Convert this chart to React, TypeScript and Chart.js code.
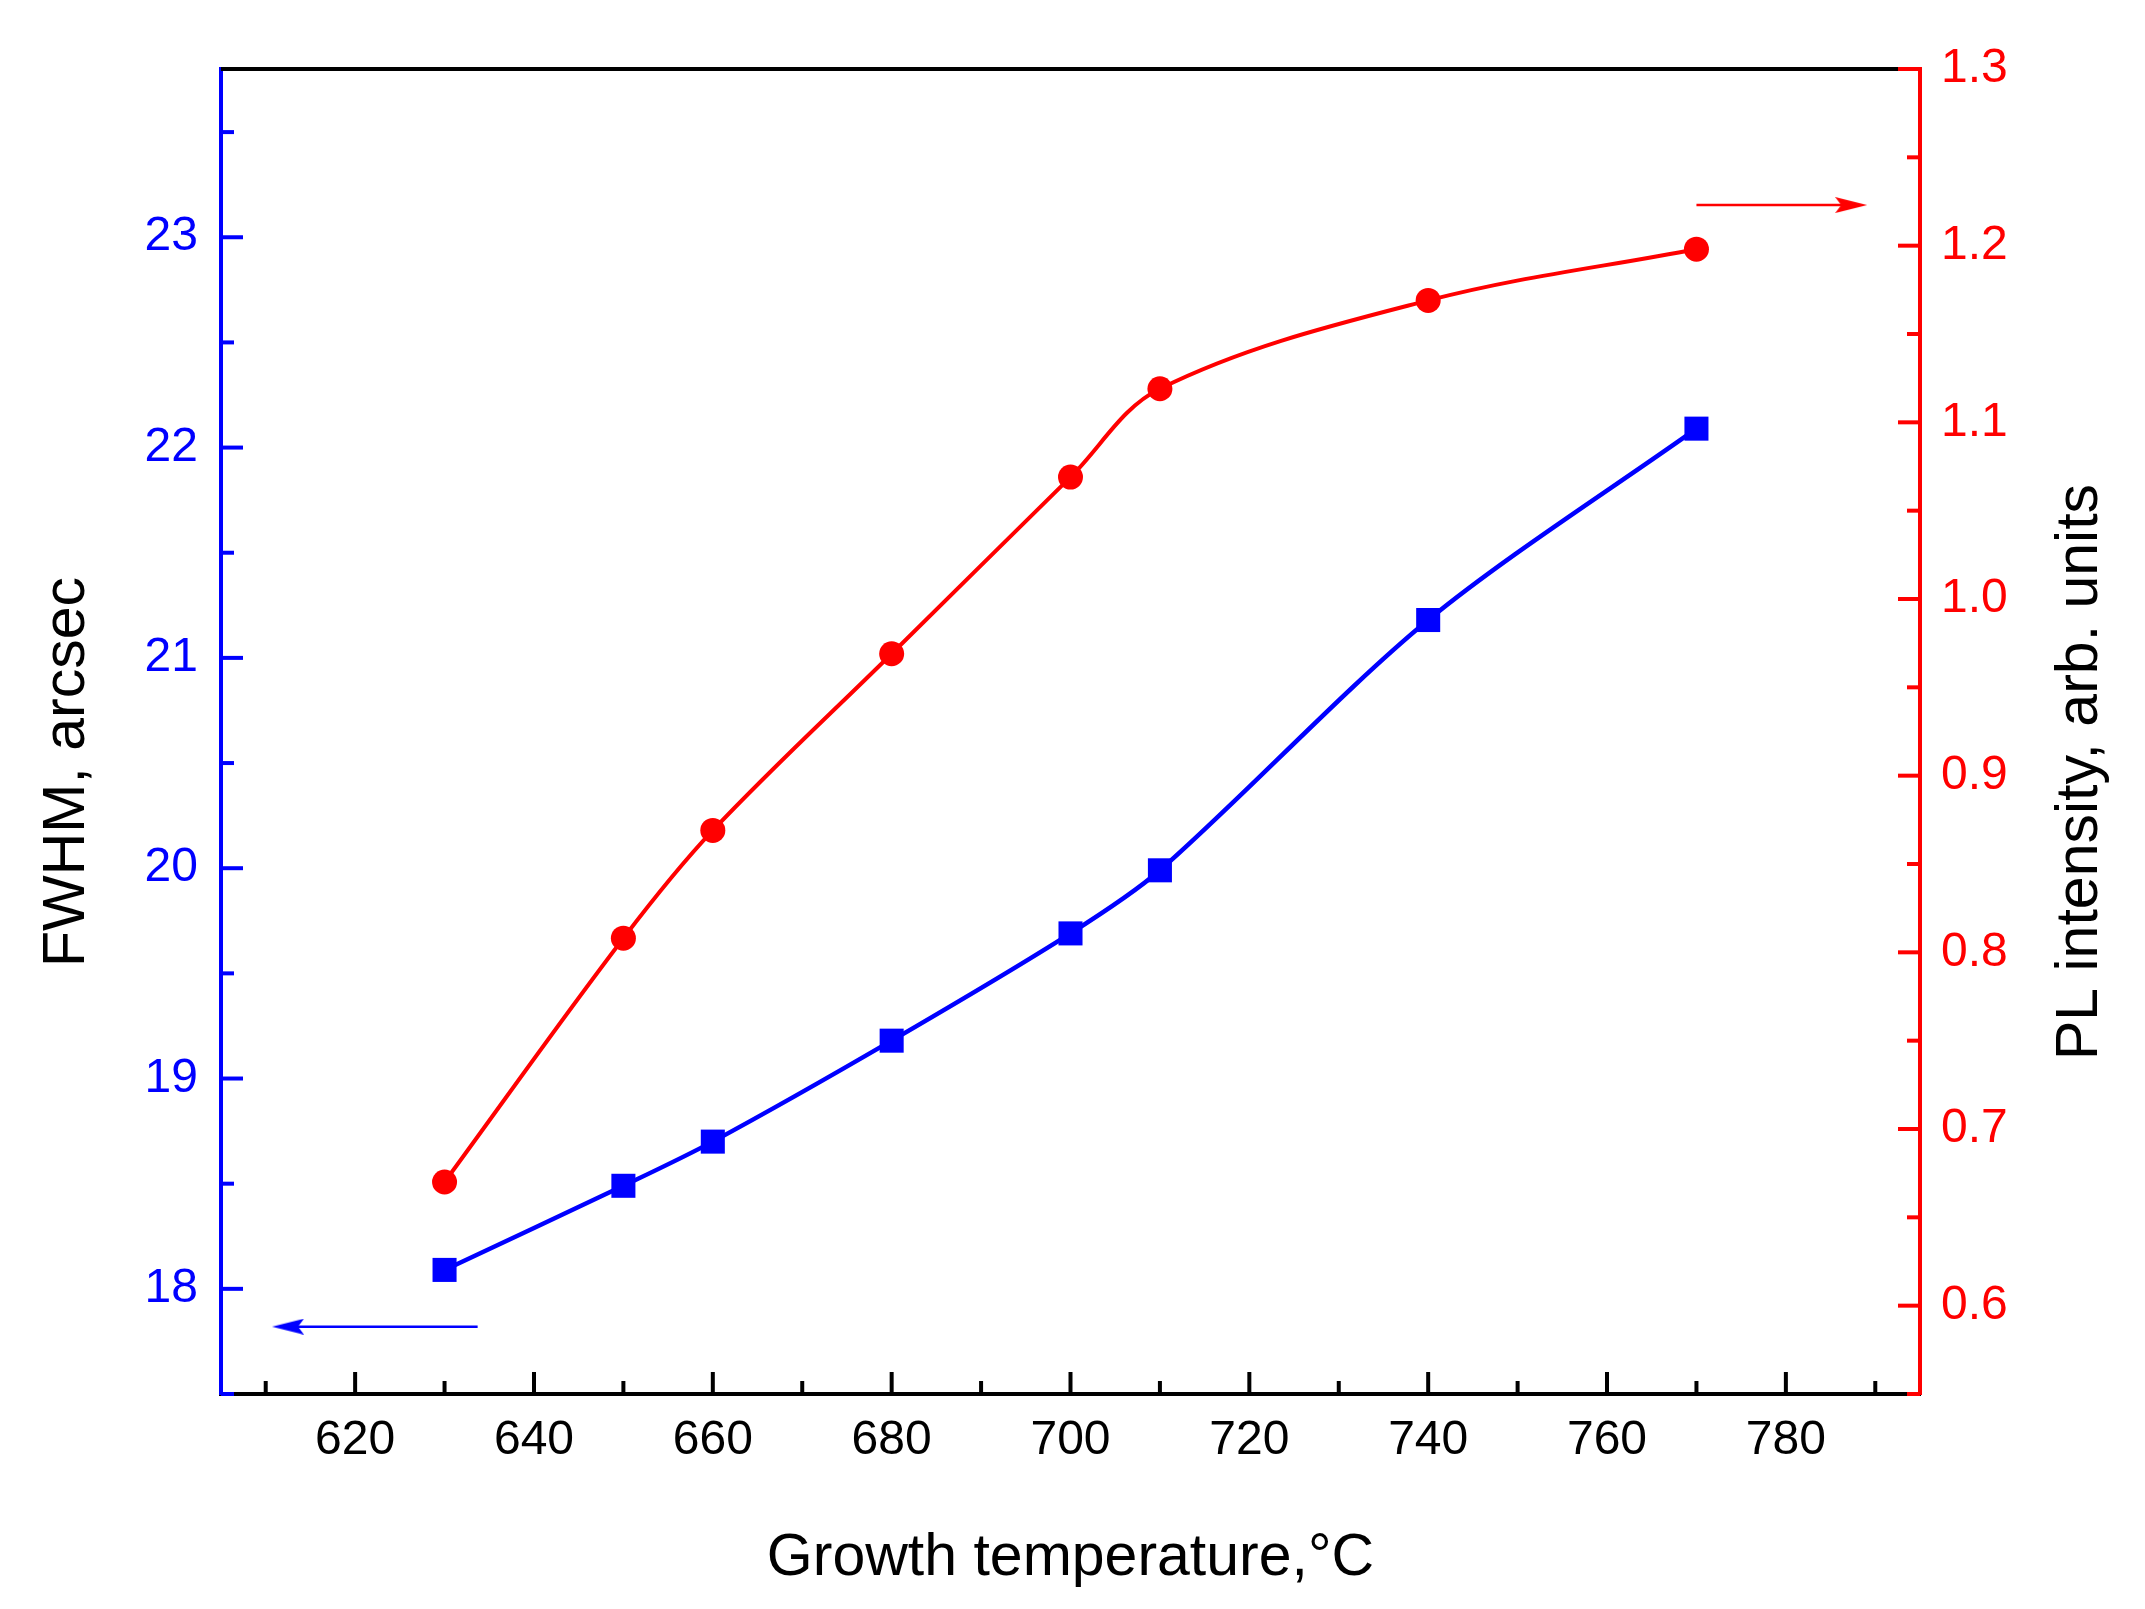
import { useEffect, useRef } from "react";
import { Chart, registerables, Plugin } from "chart.js";

Chart.register(...registerables);

// growth temperature, °C
const temperatures = [630, 650, 660, 680, 700, 710, 740, 770];
// left axis: FWHM, arcsec
const fwhmValues = [18.09, 18.49, 18.7, 19.18, 19.69, 19.99, 21.18, 22.09];
// right axis: PL intensity, arb. units
const plIntensity = [0.67, 0.808, 0.869, 0.969, 1.069, 1.119, 1.169, 1.198];

const xTicks = [620, 640, 660, 680, 700, 720, 740, 760, 780];
const fwhmTicks = [18, 19, 20, 21, 22, 23];
const plTicks = [0.6, 0.7, 0.8, 0.9, 1.0, 1.1, 1.2, 1.3];

// arrows that point at the axis each curve belongs to
const fwhmArrowX = [633.7, 612.5];
const fwhmArrowY = 17.82;
const plArrowX = [770, 787.3];
const plArrowY = 1.223;

const xTitle = "Growth temperature,°C";
const fwhmTitle = "FWHM, arcsec";
const plTitle = "PL intensity, arb. units";

const BLUE = "#0000ff";
const RED = "#ff0000";
const FONT = "'Liberation Sans', Arial, sans-serif";

// minor ticks halfway between majors, kept inside the axis range
function minorValues(majors: number[], min: number, max: number) {
  const step = majors[1] - majors[0];
  const out: number[] = [];
  const candidates = [majors[0] - step / 2, ...majors.map((m) => m + step / 2)];
  for (const v of candidates) {
    if (v >= min - 1e-9 && v <= max + 1e-9) out.push(v);
  }
  return out;
}

// narrow arrow head, pointing right; rotated per point
function arrowHead(color: string) {
  const c = document.createElement("canvas");
  c.width = 32;
  c.height = 16;
  const g = c.getContext("2d")!;
  g.fillStyle = color;
  g.beginPath();
  g.moveTo(32, 8);
  g.lineTo(0, 0);
  g.lineTo(6, 8);
  g.lineTo(0, 16);
  g.closePath();
  g.fill();
  return c;
}

const framePlugin: Plugin = {
  id: "frame",
  afterDraw(chart) {
    const { ctx, chartArea: a, scales } = chart;
    ctx.save();
    ctx.lineCap = "butt";

    // top border
    ctx.strokeStyle = "#000";
    ctx.lineWidth = 4;
    ctx.beginPath();
    ctx.moveTo(a.left, a.top);
    ctx.lineTo(a.right, a.top);
    ctx.stroke();

    const MAJOR = 22;
    const MINOR = 13;
    const tickSet = (
      id: string,
      majors: number[],
      color: string,
      edge: number,
      dir: number,
      vertical: boolean
    ) => {
      const s = scales[id];
      ctx.strokeStyle = color;
      ctx.lineWidth = 4;
      const draw = (v: number, len: number) => {
        const p = s.getPixelForValue(v);
        ctx.beginPath();
        if (vertical) {
          ctx.moveTo(edge, p);
          ctx.lineTo(edge + dir * len, p);
        } else {
          ctx.moveTo(p, edge);
          ctx.lineTo(p, edge + dir * len);
        }
        ctx.stroke();
      };
      majors.forEach((v) => draw(v, MAJOR));
      minorValues(majors, s.min, s.max).forEach((v) => draw(v, MINOR));
    };
    tickSet("x", xTicks, "#000", a.bottom, -1, false);
    tickSet("y", fwhmTicks, BLUE, a.left, 1, true);
    tickSet("y1", plTicks, RED, a.right, -1, true);

    // axis titles
    ctx.fillStyle = "#000";
    ctx.font = `59px ${FONT}`;
    ctx.textAlign = "center";
    ctx.textBaseline = "alphabetic";
    ctx.fillText(xTitle, (a.left + a.right) / 2, 1575);

    const midY = 772;
    ctx.save();
    ctx.translate(84, midY);
    ctx.rotate(-Math.PI / 2);
    ctx.fillText(fwhmTitle, 0, 0);
    ctx.restore();

    ctx.save();
    ctx.translate(2097, midY);
    ctx.rotate(-Math.PI / 2);
    ctx.fillText(plTitle, 0, 0);
    ctx.restore();

    ctx.restore();
  },
};

export default function App() {
  const canvasRef = useRef<HTMLCanvasElement>(null);
  const chartRef = useRef<Chart | null>(null);

  useEffect(() => {
    if (!canvasRef.current) return;
    if (chartRef.current) chartRef.current.destroy();

    const fwhmPoints = temperatures.map((t, i) => ({ x: t, y: fwhmValues[i] }));
    const plPoints = temperatures.map((t, i) => ({ x: t, y: plIntensity[i] }));
    const blueHead = arrowHead(BLUE);
    const redHead = arrowHead(RED);

    chartRef.current = new Chart(canvasRef.current, {
      type: "line",
      data: {
        datasets: [
          {
            data: plPoints,
            yAxisID: "y1",
            borderColor: RED,
            backgroundColor: RED,
            borderWidth: 4,
            tension: 0.35,
            pointStyle: "circle",
            pointRadius: 12.5,
            pointBorderWidth: 0,
          },
          {
            data: fwhmPoints,
            yAxisID: "y",
            borderColor: BLUE,
            backgroundColor: BLUE,
            borderWidth: 4.5,
            tension: 0.3,
            pointStyle: "rect",
            pointRadius: 17,
            pointBorderWidth: 0,
          },
          {
            data: fwhmArrowX.map((x) => ({ x, y: fwhmArrowY })),
            yAxisID: "y",
            borderColor: BLUE,
            backgroundColor: BLUE,
            borderWidth: 2.5,
            pointStyle: [false, blueHead] as any,
            pointRadius: [0, 10],
            pointRotation: [0, 180],
            pointBorderWidth: 0,
          },
          {
            data: plArrowX.map((x) => ({ x, y: plArrowY })),
            yAxisID: "y1",
            borderColor: RED,
            backgroundColor: RED,
            borderWidth: 2.5,
            pointStyle: [false, redHead] as any,
            pointRadius: [0, 10],
            pointRotation: [0, 0],
            pointBorderWidth: 0,
          },
        ],
      },
      options: {
        responsive: true,
        maintainAspectRatio: false,
        animation: false,
        layout: { padding: { top: 69, left: 0, right: 0, bottom: 0 } },
        plugins: {
          legend: { display: false },
          tooltip: { enabled: false },
        },
        scales: {
          x: {
            type: "linear",
            position: "bottom",
            min: 605,
            max: 795,
            grid: { display: false, drawTicks: false },
            border: { display: true, color: "#000", width: 4 },
            ticks: {
              color: "#000",
              font: { family: FONT, size: 48 },
              padding: 18,
              maxRotation: 0,
              autoSkip: false,
            },
            afterBuildTicks: (s) => {
              s.ticks = xTicks.map((value) => ({ value }));
            },
            afterFit: (s) => {
              s.height = 215;
            },
          },
          y: {
            type: "linear",
            position: "left",
            min: 17.5,
            max: 23.8,
            grid: { display: false, drawTicks: false },
            border: { display: true, color: BLUE, width: 4 },
            ticks: {
              color: BLUE,
              font: { family: FONT, size: 48 },
              padding: 23,
              autoSkip: false,
            },
            afterBuildTicks: (s) => {
              s.ticks = fwhmTicks.map((value) => ({ value }));
            },
            afterFit: (s) => {
              s.width = 221;
            },
          },
          y1: {
            type: "linear",
            position: "right",
            min: 0.55,
            max: 1.3,
            grid: { display: false, drawTicks: false },
            border: { display: true, color: RED, width: 4 },
            ticks: {
              color: RED,
              font: { family: FONT, size: 48 },
              padding: 21,
              autoSkip: false,
              callback: (v) => Number(v).toFixed(1),
            },
            afterBuildTicks: (s) => {
              s.ticks = plTicks.map((value) => ({ value }));
            },
            afterFit: (s) => {
              s.width = 225;
            },
          },
        },
      },
      plugins: [framePlugin],
    });

    return () => {
      if (chartRef.current) {
        chartRef.current.destroy();
        chartRef.current = null;
      }
    };
  }, []);

  return (
    <div
      style={{
        position: "absolute",
        left: 0,
        top: 0,
        width: 2145,
        height: 1609,
        background: "#fff",
      }}
    >
      <canvas ref={canvasRef} />
    </div>
  );
}
